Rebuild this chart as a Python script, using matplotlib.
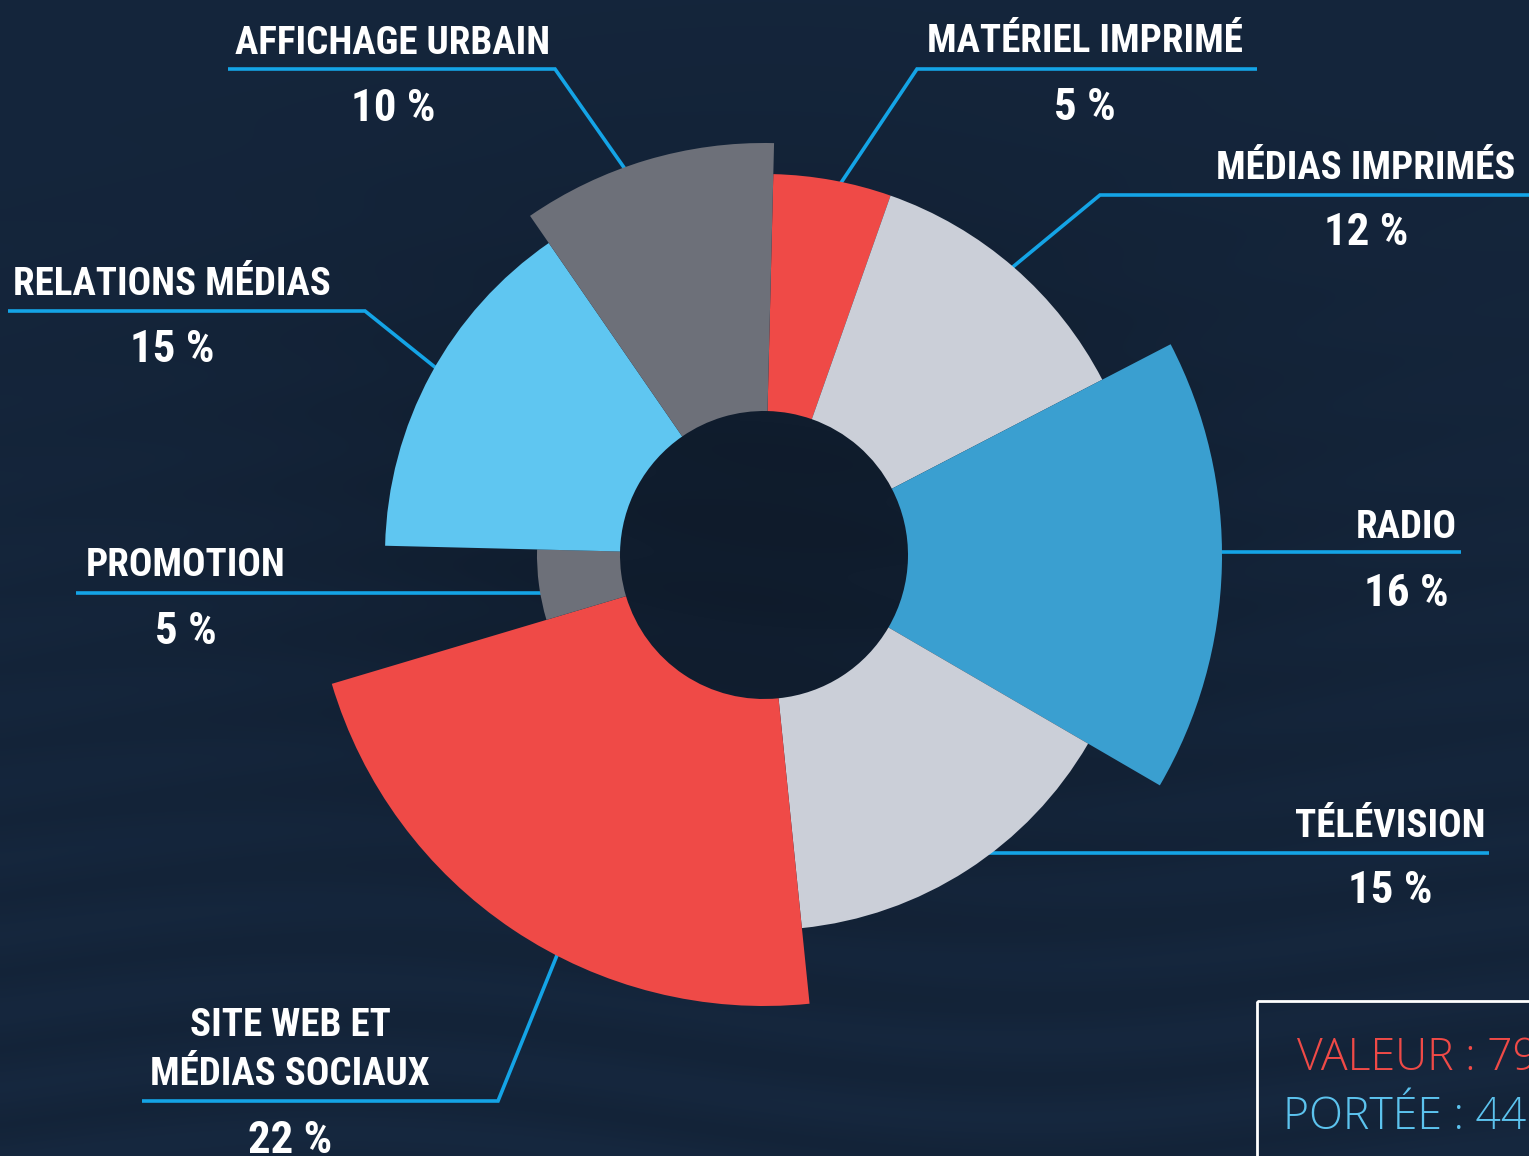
import os
import glob
import numpy as np
import matplotlib
matplotlib.use("Agg")
import matplotlib.pyplot as plt
from matplotlib import font_manager as fm
from matplotlib.patches import Rectangle

# ---------------- data ----------------
categories = ["MATÉRIEL IMPRIMÉ", "MÉDIAS IMPRIMÉS", "RADIO", "TÉLÉVISION",
              "SITE WEB ET\nMÉDIAS SOCIAUX", "PROMOTION", "RELATIONS MÉDIAS",
              "AFFICHAGE URBAIN"]
shares = [5, 12, 16, 15, 22, 5, 15, 10]          # % -> angle of each slice
reach = [237, 237, 314, 231, 307, 83, 235, 268]  # radial extent of each slice
pct_labels = [f"{s} %" for s in shares]
legend_lines = ["VALEUR : 79 000 $", "PORTÉE : 44 000 000"]

# ---------------- style ----------------
colors = ["#EF4A47", "#CBCFD8", "#3A9FD0", "#CBCFD8",
          "#EF4A47", "#6D7079", "#5FC6F1", "#6D7079"]
LINE_C = "#14A4E6"
W, H = 1529, 1156
CX, CY = 764, 555
RMAX = 470
INNER = 144
START = 1.4  # degrees clockwise from north


def pick_title_font():
    files = set(f.fname for f in fm.fontManager.ttflist)
    for d in ["/usr/share/fonts", "/usr/local/share/fonts",
              os.path.expanduser("~/.fonts"), os.path.expanduser("~/.local/share/fonts")]:
        files.update(glob.glob(os.path.join(d, "**", "*.[ot]tf"), recursive=True))
    prefs = ["NotoSans-ExtraCondensedBold", "NotoSansDisplay-ExtraCondensedBold",
             "LiberationSansNarrow-Bold.", "RobotoCondensed-Bold.",
             "Roboto_Condensed-Bold.", "OpenSans-CondensedBold.",
             "NotoSans-CondensedBold", "DejaVuSansCondensed-Bold."]
    for p in prefs:
        for f in sorted(files):
            if os.path.basename(f).startswith(p):
                return fm.FontProperties(fname=f)
    for f in sorted(files):
        b = os.path.basename(f).lower()
        if ("condensed" in b or "narrow" in b) and "bold" in b and "italic" not in b:
            return fm.FontProperties(fname=f)
    return fm.FontProperties(family="DejaVu Sans", weight="bold")


title_fp = pick_title_font()

# label layout: (center x, title baseline, pct baseline, line y, outer x, elbow x or None, anchor frac)
layout = [
    (1085, 52, 120, 69, 1257, 917, 0.54),
    (1366, 179, 245, 195, 1529, 1100, 0.49),
    (1406, 538, 606, 552, 1461, None, 0.5),
    (1390, 837, 903, 853, 1489, None, 0.5),
    (290, 1085, 1153, 1101, 142, 498, 0.42),
    (186, 576, 644, 593, 76, None, 0.5),
    (172, 295, 362, 311, 8, 365, 0.52),
    (393, 54, 121, 69, 228, 555, 0.42),
]

fig = plt.figure(figsize=(W / 100, H / 100), dpi=100)

# background
bg = fig.add_axes([0, 0, 1, 1], zorder=0)
yy, xx = np.mgrid[0:1:232j, 0:1:306j]
shade = (1.0
         - 0.25 * np.exp(-((xx - 0.5) ** 2 / 0.08 + (yy - 0.45) ** 2 / 0.07))
         + 0.05 * np.sin(yy * 95 + 2.5 * np.sin(xx * 7)) * yy ** 1.5
         + 0.08 * (yy - 0.5) ** 2)
base = np.array([0.080, 0.145, 0.230])
img = np.clip(shade[..., None] * base[None, None, :], 0, 1)
bg.imshow(img, extent=[0, 1, 0, 1], aspect="auto", interpolation="bicubic")
bg.set_axis_off()

# overlay for leader lines and text (pixel coordinates)
ov = fig.add_axes([0, 0, 1, 1], zorder=1)
ov.set_xlim(0, W)
ov.set_ylim(H, 0)
ov.set_axis_off()
ov.patch.set_alpha(0)

# polar chart
pax = fig.add_axes([(CX - RMAX) / W, (H - CY - RMAX) / H, 2 * RMAX / W, 2 * RMAX / H],
                   projection="polar", zorder=2)
pax.set_theta_zero_location("N")
pax.set_theta_direction(-1)
pax.set_ylim(0, RMAX)
pax.set_axis_off()
pax.patch.set_alpha(0)

widths = np.deg2rad(np.array(shares) / 100 * 360)
lefts = np.deg2rad(START) + np.concatenate([[0], np.cumsum(widths)[:-1]])
outer = INNER + np.array(reach)
pax.bar(lefts, reach, width=widths, bottom=INNER, align="edge",
        color=colors, edgecolor="none", linewidth=0)

fig.canvas.draw()
renderer = fig.canvas.get_renderer()

# size title font so that "AFFICHAGE URBAIN" is ~315 px wide (cap height <= ~39 px)
probe = ov.text(0, 0, "AFFICHAGE URBAIN", fontproperties=title_fp, fontsize=40)
wpx = probe.get_window_extent(renderer).width
probe.remove()
TSIZE = min(40 * 315 / wpx, 39)
PSIZE = min(TSIZE * 1.15, 39)

inv = ov.transData.inverted()


def to_ov(theta, r):
    return inv.transform(pax.transData.transform((theta, r)))


c_ov = to_ov(0, 0)

for i, (lx, ty, py, ly, ox, ex, fr) in enumerate(layout):
    ang = lefts[i] + widths[i] * fr
    if ex is not None:
        ax_, ay_ = to_ov(ang, outer[i] - 10)
        ov.plot([ox, ex, ax_], [ly, ly, ay_], color=LINE_C, lw=2.6,
                solid_joinstyle="miter", solid_capstyle="butt")
    else:
        rpx = np.hypot(*(to_ov(ang, outer[i]) - c_ov))
        dy = ly - c_ov[1]
        sgn = 1 if ox > c_ov[0] else -1
        xe = c_ov[0] + sgn * (np.sqrt(max(rpx ** 2 - dy ** 2, 0)) - 10)
        ov.plot([ox, xe], [ly, ly], color=LINE_C, lw=2.6, solid_capstyle="butt")
    ov.text(lx, ty, categories[i], ha="center", va="baseline", color="white",
            fontproperties=title_fp, fontsize=TSIZE,
            linespacing=1.4, multialignment="center")
    ov.text(lx, py, pct_labels[i], ha="center", va="baseline", color="white",
            fontproperties=title_fp, fontsize=PSIZE)

# legend box (cut by the right/bottom edge)
ov.add_patch(Rectangle((1257, 1001), 400, 300, fill=False, edgecolor="white", lw=2))
ov.text(1297, 1070, legend_lines[0], color="#EF4A47", fontsize=32,
        fontweight="light", family=["Open Sans", "DejaVu Sans"], va="baseline")
ov.text(1283, 1129, legend_lines[1], color="#5CC3EE", fontsize=32,
        fontweight="light", family=["Open Sans", "DejaVu Sans"], va="baseline")

fig.savefig("out.png", dpi=100)
